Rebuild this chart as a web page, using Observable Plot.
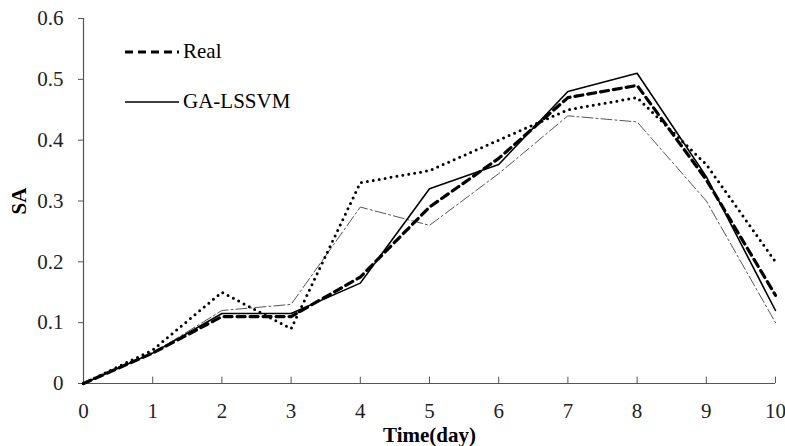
<!DOCTYPE html>
<html>
<head>
<meta charset="utf-8">
<script src="https://cdn.jsdelivr.net/npm/d3@7"></script>
<script src="https://cdn.jsdelivr.net/npm/@observablehq/plot@0.6"></script>
<style>
  body { margin: 0; background: #fff; }
  #wrap { position: relative; width: 785px; height: 446px; font-family: "Liberation Serif", Tinos, "Times New Roman", Times, "DejaVu Serif", serif; }
  #wrap svg text { font-family: "Liberation Serif", Tinos, "Times New Roman", Times, "DejaVu Serif", serif !important; }
  #legend { position: absolute; left: 124px; top: 40px; font-size: 21px; color: #000; }
  .row { position: absolute; left: 0; white-space: nowrap; height: 24px; line-height: 24px; }
  .row svg { display: block; }
  .row span { position: absolute; left: 59px; top: -1px; }
</style>
</head>
<body>
<div id="wrap">
  <div id="chart"></div>
  <div id="legend"></div>
</div>
<script>
const days = [0, 1, 2, 3, 4, 5, 6, 7, 8, 9, 10];
const real      = [0, 0.05, 0.11, 0.11, 0.175, 0.29, 0.37, 0.47, 0.49, 0.335, 0.145];
const gaLssvm   = [0, 0.05, 0.115, 0.115, 0.165, 0.32, 0.36, 0.48, 0.51, 0.34, 0.12];
const dotted    = [0, 0.055, 0.15, 0.09, 0.33, 0.35, 0.40, 0.45, 0.47, 0.36, 0.20];
const dashDot   = [0, 0.05, 0.12, 0.13, 0.29, 0.26, 0.345, 0.44, 0.43, 0.30, 0.10];
const xTicks = [0, 1, 2, 3, 4, 5, 6, 7, 8, 9, 10];
const yTicks = [0, 0.1, 0.2, 0.3, 0.4, 0.5, 0.6];
const legendNames = ["Real", "GA-LSSVM"];

const toRows = arr => days.map((d, i) => ({day: d, v: arr[i]}));
const axisColor = "#555";
const serif = "'Liberation Serif', Tinos, 'Times New Roman', Times, 'DejaVu Serif', serif";

const chart = Plot.plot({
  width: 785,
  height: 446,
  marginLeft: 83,
  marginRight: 10,
  marginTop: 18,
  marginBottom: 63,
  style: {fontFamily: serif, fontSize: "21px", color: "#222", background: "#fff"},
  x: {domain: [0, 10]},
  y: {domain: [0, 0.6]},
  marks: [
    Plot.axisY(yTicks, {tickSize: 5, tickPadding: 15, stroke: axisColor, fontSize: 21, fontFamily: serif,
      tickFormat: d => d === 0 ? "0" : d.toFixed(1),
      label: "SA", labelAnchor: "center", labelArrow: "none", labelOffset: 72}),
    Plot.axisX(xTicks, {tickSize: 0, tickPadding: 20, fontSize: 21, fontFamily: serif,
      tickFormat: d => String(d),
      label: "Time(day)", labelAnchor: "center", labelArrow: "none", labelOffset: 58}),
    Plot.ruleX(xTicks.slice(1), {x: d => d, y1: 0, y2: 0.0105, stroke: axisColor, strokeWidth: 1}),
    Plot.ruleX([0], {y1: 0, y2: 0.6, stroke: axisColor, strokeWidth: 1.2}),
    Plot.ruleY([0], {x1: 0, x2: 10, stroke: axisColor, strokeWidth: 1.2}),
    Plot.line(toRows(dashDot), {x: "day", y: "v", stroke: "#555", strokeWidth: 1, strokeDasharray: "11,3,2,3"}),
    Plot.line(toRows(dotted), {x: "day", y: "v", stroke: "#000", strokeWidth: 3, strokeDasharray: "0,6", strokeLinecap: "round"}),
    Plot.line(toRows(gaLssvm), {x: "day", y: "v", stroke: "#000", strokeWidth: 1.6}),
    Plot.line(toRows(real), {x: "day", y: "v", stroke: "#000", strokeWidth: 3.2, strokeDasharray: "8,5"})
  ]
});

d3.select(chart).selectAll('g[aria-label="y-axis label"] text, g[aria-label="x-axis label"] text')
  .style("font-weight", "bold").style("fill", "#000").style("font-size", "21px");

document.getElementById("chart").appendChild(chart);

const legend = document.getElementById("legend");
const styles = [
  {dash: "8,5", w: 3.2},
  {dash: "none", w: 1.6}
];
legendNames.forEach((name, i) => {
  const row = document.createElement("div");
  row.className = "row";
  row.style.top = (i * 50) + "px";
  row.innerHTML = `<svg width="56" height="24"><line x1="1" x2="55" y1="12" y2="12" stroke="#000" stroke-width="${styles[i].w}" ${styles[i].dash !== "none" ? `stroke-dasharray="${styles[i].dash}"` : ""}/></svg><span>${name}</span>`;
  legend.appendChild(row);
});
</script>
</body>
</html>
